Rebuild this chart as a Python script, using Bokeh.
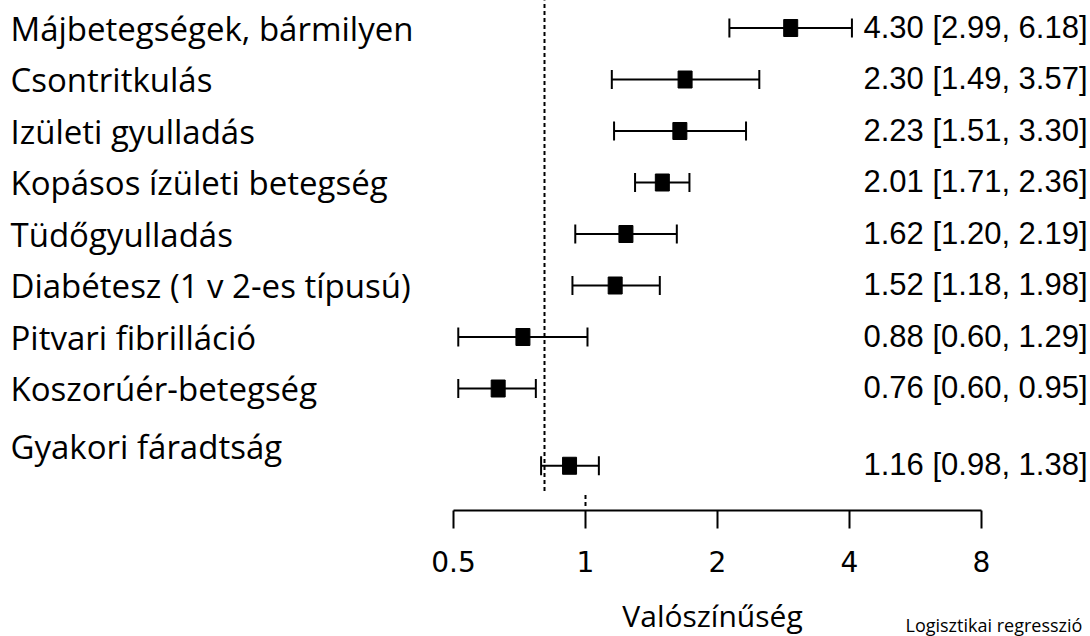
import math
from bokeh.plotting import figure
from bokeh.models import (Range1d, LogScale, LinearScale, LogAxis, FixedTicker,
                          Whisker, TeeHead, ColumnDataSource)
from bokeh.core.properties import value
from bokeh.embed import file_html
from bokeh.resources import INLINE

# ---------------- data ----------------
conditions = ["Májbetegségek, bármilyen", "Csontritkulás", "Izületi gyulladás",
              "Kopásos ízületi betegség", "Tüdőgyulladás", "Diabétesz (1 v 2-es típusú)",
              "Pitvari fibrilláció", "Koszorúér-betegség", "Gyakori fáradtság"]
odds_ratio = [4.30, 2.30, 2.23, 2.01, 1.62, 1.52, 0.88, 0.76, 1.16]
ci_low = [2.99, 1.49, 1.51, 1.71, 1.20, 1.18, 0.60, 0.60, 0.98]
ci_high = [6.18, 3.57, 3.30, 2.36, 2.19, 1.98, 1.29, 0.95, 1.38]
tick_values = [0.5, 1, 2, 4, 8]
tick_labels = ["0.5", "1", "2", "4", "8"]
axis_title = "Valószínűség"
footnote = "Logisztikai regresszió"
reference_value = 1

# ---------------- layout (positions) ----------------
row_pos = [0, 1, 2, 3, 4, 5, 6, 7, 8.5]          # rows of the forest plot
label_rows = [0, 1, 2, 3, 4, 5, 6, 7, 8.12]      # rows of the left-hand labels
W, H = 1090, 636
AXIS_Y = 510

value_texts = [f"{o:.2f} [{l:.2f}, {h:.2f}]" for o, l, h in zip(odds_ratio, ci_low, ci_high)]

src = ColumnDataSource(dict(row=row_pos, orr=odds_ratio, lo=ci_low, hi=ci_high,
                            label=conditions, lrow=label_rows, vtxt=value_texts))

p = figure(width=W, height=H, output_backend="svg", toolbar_location=None,
           x_axis_location=None, y_axis_location=None,
           x_range=Range1d(2 ** (-544 / 117), 2 ** (546 / 117)),
           y_range=Range1d((H - 27.5) / 51.5, -27.5 / 51.5),
           min_border_left=0, min_border_right=0, min_border_top=0,
           min_border_bottom=0)
p.x_scale = LogScale()
p.outline_line_color = None
p.background_fill_color = "white"
p.border_fill_color = "white"
p.xgrid.grid_line_color = None
p.ygrid.grid_line_color = None

p.extra_x_ranges = {"axis": Range1d(2 ** (-585 / 132), 2 ** (505 / 132)),
                    "px": Range1d(0, W)}
p.extra_x_scales = {"axis": LogScale(), "px": LinearScale()}
p.extra_y_ranges = {"px": Range1d(H, 0)}

# bottom log axis (fixed inside the frame)
ax = LogAxis(x_range_name="axis", y_range_name="px", fixed_location=AXIS_Y,
             ticker=FixedTicker(ticks=tick_values), bounds=(0.5, 8),
             major_tick_out=18, major_tick_in=0, minor_tick_out=0, minor_tick_in=0,
             axis_line_width=2, major_tick_line_width=2,
             axis_line_color="black", major_tick_line_color="black",
             major_label_text_font="DejaVu Sans", major_label_text_font_size="28px",
             major_label_text_color="black", major_label_standoff=22,
             major_label_overrides={v: t for v, t in zip(tick_values, tick_labels)})
p.add_layout(ax, "below")

# dotted reference line at OR = 1
p.segment(x0=[reference_value], x1=[reference_value], y0=[-0.6], y1=[9.0],
          line_color="black", line_width=2, line_dash="4 3")
# small dotted mark above the axis at 1
p.segment(x0=[reference_value], x1=[reference_value], y0=[9.07], y1=[9.33],
          x_range_name="axis", line_color="black", line_width=2, line_dash="4 3")

# confidence intervals
wh = Whisker(source=src, base="row", lower="lo", upper="hi", dimension="width",
             line_color="black", line_width=2,
             upper_head=TeeHead(size=19, line_width=2, line_color="black"),
             lower_head=TeeHead(size=19, line_width=2, line_color="black"))
p.add_layout(wh)

# point estimates
p.rect(x="orr", y="row", width=14, height=17, width_units="screen", height_units="screen",
       source=src, fill_color="black", line_color="black")

# left-hand labels
p.text(x=10, y="lrow", text="label", source=src, x_range_name="px",
       text_font=value("Open Sans"), text_font_size="33px", text_color="black",
       text_baseline="alphabetic", text_align="left", y_offset=0)

# right-hand values
p.text(x=863, y="row", text="vtxt", source=src, x_range_name="px",
       text_font=value("Liberation Sans"), text_font_size="31px",
       text_color="black", text_baseline="alphabetic", text_align="left", y_offset=-1)

# axis title and footnote
p.text(x=[712], y=[615], text=[axis_title], x_range_name="px", y_range_name="px",
       text_font=value("Open Sans"), text_font_size="30px", text_color="black",
       text_baseline="alphabetic", text_align="center")
p.text(x=[905], y=[624], text=[footnote], x_range_name="px", y_range_name="px",
       text_font=value("Open Sans"), text_font_size="18px", text_color="black",
       text_baseline="alphabetic", text_align="left")

open("out.html", "w").write(file_html(p, INLINE))
